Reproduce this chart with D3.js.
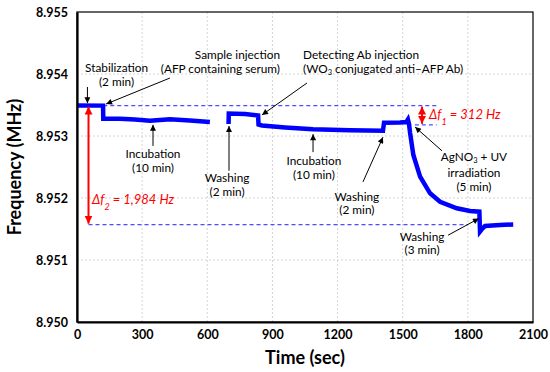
<!DOCTYPE html>
<html>
<head>
<meta charset="utf-8">
<script src="https://cdn.jsdelivr.net/npm/d3@7"></script>
<style>
  body { margin: 0; background: #fff; }
  text { font-family: Lato, "Open Sans", sans-serif; }
</style>
</head>
<body>
<div id="chart"></div>
<script>
"use strict"

/* Data */
let xTicks = [0, 300, 600, 900, 1200, 1500, 1800, 2100];
let yTicks = [8.950, 8.951, 8.952, 8.953, 8.954, 8.955];

// first run: stabilization + sample incubation (sec)
let seg1Time = [0, 120, 121, 198, 267, 336, 382, 428, 520, 612];
let seg1Freq = [8.953492, 8.95349, 8.95328, 8.953279, 8.953266, 8.953247, 8.953258, 8.953269, 8.95325, 8.953226];

// second run: washing, detecting Ab, AgNO3 + UV, washing
let seg2Time = [698, 699, 774, 834, 836, 852, 958, 1087, 1257, 1409, 1414, 1488, 1517, 1524, 1529, 1534, 1549,
    1580, 1626, 1672, 1749, 1810, 1853, 1856, 1865, 1879, 1948, 2009];
let seg2Freq = [8.953194, 8.953363, 8.953355, 8.953331, 8.953185, 8.953169, 8.953137, 8.953108, 8.953092, 8.953084,
    8.953213, 8.953218, 8.953226, 8.953266, 8.953194, 8.953048, 8.952694, 8.952344, 8.952076, 8.95194,
    8.951834, 8.95179, 8.951779, 8.95146, 8.9515, 8.951548, 8.951565, 8.951573];

// reference levels
let baseFreq = 8.95349;
let df1Freq = 8.95318;
let df2Freq = 8.95157;

// annotation arrows (time, freq) -> (time, freq)
let arrows = [
    { t1: 48, f1: 8.95379, t2: 48, f2: 8.95353 },      // stabilization
    { t1: 428, f1: 8.953935, t2: 134, f2: 8.953516 }, // sample injection
    { t1: 350, f1: 8.95284, t2: 350, f2: 8.95318 },   // incubation
    { t1: 700, f1: 8.95244, t2: 700, f2: 8.95316 },   // washing
    { t1: 1059, f1: 8.953855, t2: 852, f2: 8.95334 }, // detecting Ab
    { t1: 1087, f1: 8.95274, t2: 1087, f2: 8.95303 }, // incubation
    { t1: 1317, f1: 8.95226, t2: 1409, f2: 8.95298 }, // washing
    { t1: 1681, f1: 8.95276, t2: 1557, f2: 8.953145 },// AgNO3
    { t1: 1709, f1: 8.9514, t2: 1851, f2: 8.95167 }   // washing
];

// annotation texts, "_3" is a subscript
let notes = [
    { t: 182, f: 8.9541, anchor: "middle", lines: ["Stabilization", "(2 min)"] },
    { t: 935, f: 8.95431, anchor: "end", lines: ["Sample injection", "(AFP containing serum)"] },
    { t: 1041, f: 8.95431, anchor: "start", lines: ["Detecting Ab injection", "(WO_3 conjugated anti\u2013AFP Ab)"] },
    { t: 350, f: 8.95271, anchor: "middle", lines: ["Incubation", "(10 min)"] },
    { t: 691, f: 8.95232, anchor: "middle", lines: ["Washing", "(2 min)"] },
    { t: 1091, f: 8.9526, anchor: "middle", lines: ["Incubation", "(10 min)"] },
    { t: 1289, f: 8.95202, anchor: "middle", lines: ["Washing", "(2 min)"] },
    { t: 1828, f: 8.95266, anchor: "middle", lines: ["AgNO_3 + UV", "irradiation", "(5 min)"] },
    { t: 1589, f: 8.95138, anchor: "middle", lines: ["Washing", "(3 min)"] }
];

/* Drawing */
let svgWidth = 550;
let svgHeight = 372;

let svg = d3.select("#chart")
    .append("svg")
    .attr("width", svgWidth)
    .attr("height", svgHeight);

let xScale = d3.scaleLinear()
    .domain([0, 2100])
    .range([77, 533]);

let yScale = d3.scaleLinear()
    .domain([8.950, 8.955])
    .range([322, 12]);

let defs = svg.append("defs");
function addMarker(id, color, w, h) {
    defs.append("marker")
        .attr("id", id)
        .attr("viewBox", "0 0 10 10")
        .attr("refX", 10)
        .attr("refY", 5)
        .attr("markerUnits", "userSpaceOnUse")
        .attr("markerWidth", w)
        .attr("markerHeight", h)
        .attr("orient", "auto-start-reverse")
        .append("path")
        .attr("d", "M0,0 L10,5 L0,10 Z")
        .attr("fill", color);
}
addMarker("blackHead", "black", 7, 6);
addMarker("redHead", "red", 8, 8);

// grid
svg.selectAll(".vgrid")
    .data(xTicks.slice(1, -1))
    .join("line")
    .attr("x1", d => xScale(d))
    .attr("x2", d => xScale(d))
    .attr("y1", yScale(8.955))
    .attr("y2", yScale(8.950))
    .attr("stroke", "#d4d4d4")
    .attr("stroke-dasharray", "2,2");

svg.selectAll(".hgrid")
    .data(yTicks.slice(1, -1))
    .join("line")
    .attr("x1", xScale(0))
    .attr("x2", xScale(2100))
    .attr("y1", d => yScale(d))
    .attr("y2", d => yScale(d))
    .attr("stroke", "#d4d4d4")
    .attr("stroke-dasharray", "2,2");

// dashed reference lines
let refLines = [
    { f: baseFreq, t1: 121, t2: 1656 },
    { f: df1Freq, t1: 1556, t2: 1656 },
    { f: df2Freq, t1: 53, t2: 1800 }
];
svg.selectAll(".refline")
    .data(refLines)
    .join("line")
    .attr("x1", d => xScale(d.t1))
    .attr("x2", d => xScale(d.t2))
    .attr("y1", d => yScale(d.f))
    .attr("y2", d => yScale(d.f))
    .attr("stroke", "#4d4dff")
    .attr("stroke-width", 1.3)
    .attr("stroke-dasharray", "4,3");

// frequency curve
let line = d3.line()
    .x(d => xScale(d[0]))
    .y(d => yScale(d[1]));

let segments = [d3.zip(seg1Time, seg1Freq), d3.zip(seg2Time, seg2Freq)];
svg.selectAll(".curve")
    .data(segments)
    .join("path")
    .attr("d", line)
    .attr("fill", "none")
    .attr("stroke", "#0000ff")
    .attr("stroke-width", 4.5);

// frame
svg.append("rect")
    .attr("x", xScale(0))
    .attr("y", yScale(8.955))
    .attr("width", xScale(2100) - xScale(0))
    .attr("height", yScale(8.950) - yScale(8.955))
    .attr("fill", "none")
    .attr("stroke", "black")
    .attr("stroke-width", 1.2);

// axes
let xAxis = svg.append("g")
    .attr("transform", "translate(0," + yScale(8.950) + ")")
    .call(d3.axisBottom(xScale).tickValues(xTicks).tickSize(0).tickPadding(8).tickFormat(d3.format("d")));

let yAxis = svg.append("g")
    .attr("transform", "translate(" + xScale(0) + ",0)")
    .call(d3.axisLeft(yScale).tickValues(yTicks).tickSize(0).tickPadding(9).tickFormat(d3.format(".3f")));

[xAxis, yAxis].forEach(function(g) {
    g.select(".domain").attr("stroke-width", 2.2);
    g.selectAll("text")
        .style("font-family", "Lato, sans-serif")
        .style("font-size", "12.5px")
        .style("font-weight", "bold")
        .attr("fill", "black");
});

svg.append("text")
    .attr("x", (xScale(0) + xScale(2100)) / 2)
    .attr("y", 364)
    .attr("text-anchor", "middle")
    .style("font-size", "18px")
    .style("font-weight", "bold")
    .text("Time (sec)");

svg.append("text")
    .attr("transform", "translate(21," + (yScale(8.950) + yScale(8.955)) / 2 + ") rotate(-90)")
    .attr("text-anchor", "middle")
    .style("font-size", "18px")
    .style("font-weight", "bold")
    .text("Frequency (MHz)");

// black annotation arrows
svg.selectAll(".arrow")
    .data(arrows)
    .join("line")
    .attr("x1", d => xScale(d.t1))
    .attr("y1", d => yScale(d.f1))
    .attr("x2", d => xScale(d.t2))
    .attr("y2", d => yScale(d.f2))
    .attr("stroke", "black")
    .attr("stroke-width", 1)
    .attr("marker-end", "url(#blackHead)");

// annotation text; a subscripted line gets a little extra room below it
function addRich(sel, str) {
    let parts = str.split(/_(\d)/);
    parts.forEach(function(p, i) {
        if (p === "") return;
        let ts = sel.append("tspan").text(p);
        if (i % 2 == 1) {
            ts.attr("baseline-shift", "-2").style("font-size", "7.5px");
        }
    });
}

notes.forEach(function(n) {
    let yy = yScale(n.f);
    n.lines.forEach(function(l) {
        let t = svg.append("text")
            .attr("x", xScale(n.t))
            .attr("y", yy)
            .attr("dy", "0.35em")
            .attr("text-anchor", n.anchor)
            .style("font-size", "11.8px")
            .attr("fill", "black");
        addRich(t, l);
        yy += l.indexOf("_") >= 0 && n.lines.length > 2 ? 16 : 13.6;
    });
});

// red delta arrows
let deltas = [
    { t: 53, f1: baseFreq, f2: df2Freq, tt: 69, tf: 8.95197, name: "2", value: "1,984 Hz" },
    { t: 1589, f1: baseFreq, f2: df1Freq, tt: 1621, tf: 8.95334, name: "1", value: "312 Hz" }
];

svg.selectAll(".delta")
    .data(deltas)
    .join("line")
    .attr("x1", d => xScale(d.t))
    .attr("x2", d => xScale(d.t))
    .attr("y1", d => yScale(d.f1) + 1)
    .attr("y2", d => yScale(d.f2) - 1)
    .attr("stroke", "red")
    .attr("stroke-width", 2)
    .attr("marker-start", "url(#redHead)")
    .attr("marker-end", "url(#redHead)");

deltas.forEach(function(d) {
    let t = svg.append("text")
        .attr("x", xScale(d.tt))
        .attr("y", yScale(d.tf))
        .attr("dy", "0.35em")
        .attr("fill", "red")
        .style("font-size", "13px")
        .style("font-style", "italic");
    t.append("tspan").text("\u0394f");
    t.append("tspan").text(d.name).attr("baseline-shift", "sub").style("font-size", "9px");
    t.append("tspan").text(" = " + d.value);
});
</script>
</body>
</html>
